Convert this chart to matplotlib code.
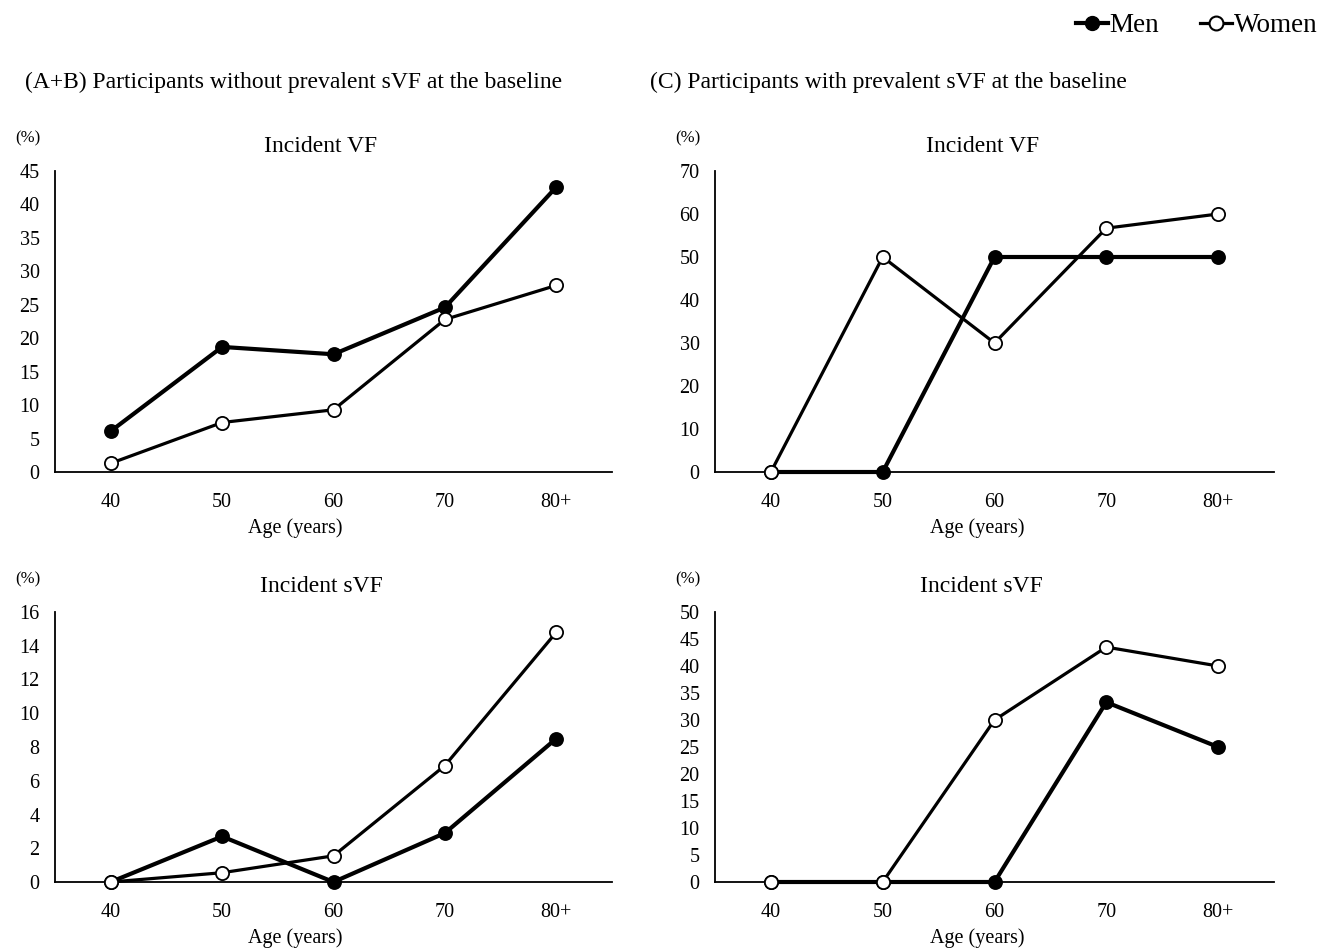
import matplotlib
matplotlib.use("Agg")
import matplotlib.pyplot as plt
from matplotlib.lines import Line2D

plt.rcParams['font.family'] = ['Liberation Serif', 'DejaVu Serif']

# data
ages = ["40", "50", "60", "70", "80+"]

ab_vf_men = [6.1, 18.7, 17.6, 24.6, 42.6]
ab_vf_women = [1.3, 7.4, 9.3, 22.8, 27.9]
ab_svf_men = [0, 2.7, 0, 2.9, 8.5]
ab_svf_women = [0, 0.55, 1.55, 6.9, 14.8]

c_vf_men = [0, 0, 50, 50, 50]
c_vf_women = [0, 50, 30, 56.7, 60]
c_svf_men = [0, 0, 0, 33.3, 25]
c_svf_women = [0, 0, 30, 43.5, 40]

W, H = 1330, 948
fig = plt.figure(figsize=(W / 100, H / 100), dpi=100)


def fx(px):
    return px / W


def fy(py):
    return 1 - py / H


def make_ax(x0, x1, y0, y1):
    return fig.add_axes([fx(x0), fy(y1), fx(x1) - fx(x0), fy(y0) - fy(y1)])


panels = [
    # (axes box px, men, women, ymax, ystep, title, title_x, xlabel_x)
    ((55, 612, 171, 472), ab_vf_men, ab_vf_women, 45, 5, "Incident VF", 0.476, 0.431),
    ((715, 1274, 171, 472), c_vf_men, c_vf_women, 70, 10, "Incident VF", 0.479, 0.469),
    ((55, 612, 612, 882), ab_svf_men, ab_svf_women, 16, 2, "Incident sVF", 0.478, 0.431),
    ((715, 1274, 612, 882), c_svf_men, c_svf_women, 50, 5, "Incident sVF", 0.476, 0.469),
]

x = list(range(len(ages)))
for box, men, women, ymax, ystep, title, tx, lx in panels:
    ax = make_ax(*box)
    h = box[3] - box[2]
    ax.plot(x, men, color='black', lw=3.0, marker='o', ms=9.5,
            mfc='black', mec='black', mew=1.2, clip_on=False, zorder=3)
    ax.plot(x, women, color='black', lw=2.3, marker='o', ms=9.5,
            mfc='white', mec='black', mew=1.3, clip_on=False, zorder=4)
    ax.set_xlim(-0.5, len(ages) - 0.5)
    ax.set_ylim(0, ymax)
    ax.set_yticks(range(0, ymax + 1, ystep))
    ax.set_xticks(x)
    ax.set_xticklabels(ages)
    for s in ['top', 'right']:
        ax.spines[s].set_visible(False)
    for s in ['left', 'bottom']:
        ax.spines[s].set_linewidth(1.3)
    ax.tick_params(axis='both', length=0, labelsize=14.5)
    ax.tick_params(axis='y', pad=11)
    ax.tick_params(axis='x', pad=15)
    ax.text(tx, 1.0 + 25 / h, title, transform=ax.transAxes,
            ha='center', va='center', fontsize=17)
    ax.set_xlabel("Age (years)", fontsize=14.5, va='center')
    ax.xaxis.set_label_coords(lx, -56 / h)
    fig.text(fx(box[0] - 27), fy(box[2] - 33), "(%)", ha='center', va='center', fontsize=12)

fig.text(fx(25), fy(82), "(A+B) Participants without prevalent sVF at the baseline",
         ha='left', va='center', fontsize=17)
fig.text(fx(650), fy(82), "(C) Participants with prevalent sVF at the baseline",
         ha='left', va='center', fontsize=17)

handles = [
    Line2D([], [], color='black', lw=3.0, marker='o', ms=10, mfc='black', mec='black'),
    Line2D([], [], color='black', lw=2.3, marker='o', ms=10, mfc='white', mec='black', mew=1.5),
]
fig.legend(handles, ["Men", "Women"], loc='center right', bbox_to_anchor=(fx(1331), fy(26)),
           ncol=2, frameon=False, fontsize=19.5, handlelength=1.2, handletextpad=0.05,
           columnspacing=1.5, borderpad=0)

fig.savefig("out.png", dpi=100)
